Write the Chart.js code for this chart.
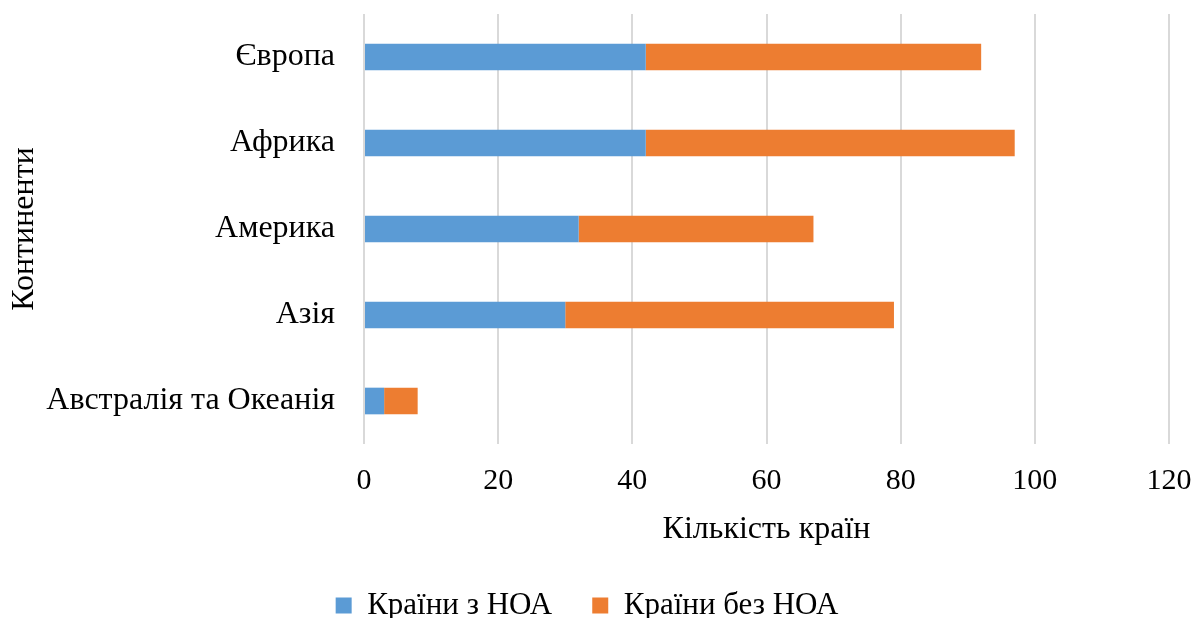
<!DOCTYPE html>
<html>
<head>
<meta charset="utf-8">
<script src="https://cdn.jsdelivr.net/npm/chart.js@4"></script>
<style>
  html, body { margin: 0; padding: 0; background: #fff; }
  #wrap { width: 1196px; height: 618px; }
</style>
</head>
<body>
<div id="wrap"><canvas id="barChart"></canvas></div>
<script>
var continents = ['Європа', 'Африка', 'Америка', 'Азія', 'Австралія та Океанія']
var withNoa = [42, 42, 32, 30, 3]
var withoutNoa = [50, 55, 35, 49, 5]
var xTicks = [0, 20, 40, 60, 80, 100, 120]

var serif = "'Liberation Serif', 'Times New Roman', serif"

var barData = {
    labels: continents,
    datasets: [{
        label: 'Країни з НОА',
        data: withNoa,
        backgroundColor: '#5b9bd5',
        barPercentage: 0.62,
        categoryPercentage: 0.5
    }, {
        label: 'Країни без НОА',
        data: withoutNoa,
        backgroundColor: '#ed7d31',
        barPercentage: 0.62,
        categoryPercentage: 0.5
    }]
}

// legend keeps wide spacing between items but a shorter box
var legendHeight = {
    id: 'legendHeight',
    beforeInit: function (chart) {
        var fit = chart.legend.fit
        chart.legend.fit = function () {
            fit.call(this)
            this.height = 68
        }
    }
}

var ctx = document.getElementById('barChart').getContext('2d')
new Chart(ctx, {
    type: 'bar',
    data: barData,
    plugins: [legendHeight],
    options: {
        indexAxis: 'y',
        responsive: true,
        maintainAspectRatio: false,
        animation: false,
        layout: { padding: { left: 5, right: 27, top: 14, bottom: 0 } },
        plugins: {
            tooltip: { enabled: false },
            legend: {
                position: 'bottom',
                labels: {
                    font: { family: serif, size: 31 },
                    color: '#000',
                    boxWidth: 16,
                    boxHeight: 16,
                    padding: 40
                }
            }
        },
        scales: {
            x: {
                stacked: true,
                min: 0,
                max: 120,
                afterBuildTicks: function (axis) {
                    axis.ticks = xTicks.map(function (v) { return { value: v } })
                },
                afterFit: function (axis) {
                    axis.height = 106
                    axis.paddingLeft = 0
                    axis.paddingRight = 0
                },
                grid: { color: '#d9d9d9', lineWidth: 2, drawTicks: false },
                border: { display: false },
                ticks: {
                    font: { family: serif, size: 30 },
                    color: '#000',
                    padding: 19
                },
                title: {
                    display: true,
                    text: 'Кількість країн',
                    font: { family: serif, size: 32 },
                    color: '#000',
                    padding: { top: 0, bottom: 1 }
                }
            },
            y: {
                stacked: true,
                afterFit: function (axis) {
                    axis.paddingTop = 0
                    axis.paddingBottom = 0
                    axis.width = 359
                },
                grid: { display: false },
                border: { display: false },
                ticks: {
                    font: { family: serif, size: 32 },
                    color: '#000',
                    padding: 21
                },
                title: {
                    display: true,
                    text: 'Континенти',
                    font: { family: serif, size: 32 },
                    color: '#000',
                    padding: { top: 0, bottom: 4 }
                }
            }
        }
    }
})
</script>
</body>
</html>
